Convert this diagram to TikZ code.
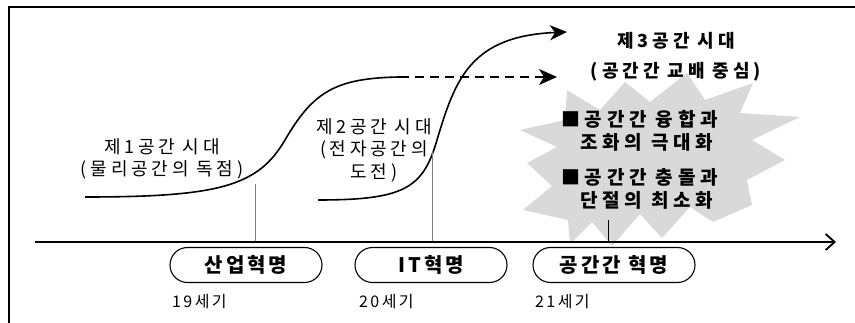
\documentclass[tikz,border=0pt]{standalone}
\usepackage{fontspec}
\setmainfont{Noto Sans CJK KR}
\newfontfamily\krL[LetterSpace=21]{Noto Sans CJK KR}
\newfontfamily\krH[LetterSpace=22]{Noto Sans CJK KR}
\newfontfamily\krS[LetterSpace=25]{Noto Sans CJK KR}
\newfontfamily\krP[LetterSpace=15]{Noto Sans CJK KR}
\newfontfamily\krC[LetterSpace=15]{Noto Sans CJK KR}
\usetikzlibrary{arrows.meta,shapes.misc}
\tikzset{
  frame/.style={line width=1.6pt},
  curve/.style={line width=1.6pt},
  guide/.style={line width=0.6pt, gray},
  lbl/.style={font=\krL\fontsize{18}{22.5}\selectfont, align=center, inner sep=0pt},
  head/.style={font=\krH\bfseries\fontsize{18}{30}\selectfont, align=center, inner sep=0pt},
  startxt/.style={font=\krS\bfseries\fontsize{19}{23}\selectfont, align=left, inner sep=0pt, anchor=west},
  pill/.style={draw, rounded rectangle, line width=1.1pt, minimum height=35pt,
    font=\krP\bfseries\fontsize{20}{20}\selectfont, inner sep=0pt},
  cent/.style={font=\krC\fontsize{16}{16}\selectfont, anchor=west, inner sep=0pt},
  burst/.style={fill=gray!30, draw=none}
}
\begin{document}
\begin{tikzpicture}[x=1pt,y=-1pt]
\useasboundingbox (0,0) rectangle (855,323);
% frame
\coordinate (fTL) at (9,7);
\coordinate (fTR) at (855,7);
\coordinate (fBL) at (9,323);
\draw[frame] (fBL) -- (fTL) -- (fTR);

% starburst
\fill[burst] (567,90) -- (600,110) -- (625,82) -- (650,102) -- (687,73) -- (705,100)
  -- (753,83) -- (740,113) -- (800,117) -- (752,140) -- (785,160) -- (747,180)
  -- (752,205) -- (713,222) -- (690,207) -- (662,238) -- (640,214) -- (612,246)
  -- (592,222) -- (570,244) -- (568,220) -- (523,210) -- (552,186) -- (527,163)
  -- (557,147) -- (520,130) -- (565,120) -- cycle;

% curves
\coordinate (c1s) at (85,197);
\coordinate (c1m) at (285,140);
\coordinate (c1e) at (400,77);
\coordinate (dE) at (557,77);
\draw[curve] (c1s) .. controls (220,197) and (258,186) .. (c1m)
  .. controls (313,92) and (335,78) .. (c1e);
\draw[curve, dash pattern=on 9pt off 6pt, -{Stealth[length=18pt,width=16pt,inset=5pt]}] (c1e) -- (dE);

\coordinate (c2s) at (318,200);
\coordinate (c2m) at (437,140);
\coordinate (c2e) at (567,32);
\draw[curve, -{Stealth[length=17pt,width=15pt,inset=5pt]}] (c2s) .. controls (405,200) and (423,188) .. (c2m)
  .. controls (455,80) and (470,36) .. (c2e);

% guide lines
\coordinate (g1t) at (255,184);
\coordinate (g1b) at (255,242);
\coordinate (g2t) at (432,152);
\coordinate (g2b) at (432,242);
\coordinate (g3t) at (608,220);
\coordinate (g3b) at (608,242);
\draw[guide] (g1t) -- (g1b);
\draw[guide] (g2t) -- (g2b);
\draw[guide, black] (g3t) -- (g3b);

% axis
\coordinate (axS) at (35,242);
\coordinate (axE) at (836,242);
\draw[line width=1.8pt, -{Straight Barb[length=9pt,width=16pt,line width=1.8pt]}] (axS) -- (axE);

% labels
\node[lbl] (era1) at (162,159) {제1공간 시대\\(물리공간의 독점)};
\node[lbl] (era2) at (374,150) {제2공간 시대\\(전자공간의\\도전)};
\node[head] (era3) at (676,57) {제3공간 시대\\(공간간 교배 중심)};
\node[startxt] (st1) at (561,131) {■공간간 융합과\\\phantom{■}조화의 극대화};
\node[startxt] (st2) at (561,189) {■공간간 충돌과\\\phantom{■}단절의 최소화};

% pills
\node[pill, minimum width=152pt] (p1) at (246,265) {산업혁명};
\node[pill, minimum width=152pt] (p2) at (431,265) {IT혁명};
\node[pill, minimum width=162pt] (p3) at (614,265) {공간간 혁명};

% centuries
\node[cent] (y19) at (172,302) {19세기};
\node[cent] (y20) at (359,302) {20세기};
\node[cent] (y21) at (535,302) {21세기};
\end{tikzpicture}
\end{document}
